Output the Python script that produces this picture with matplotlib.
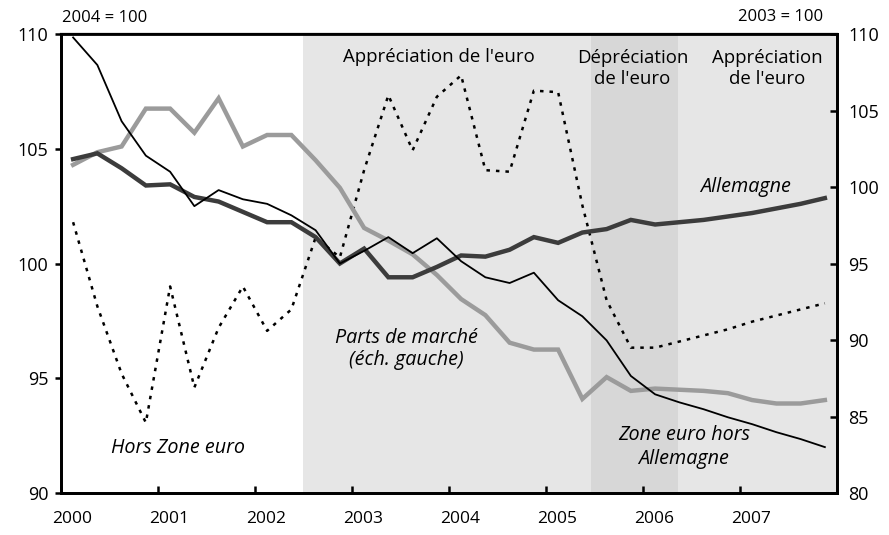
import numpy as np
import matplotlib
matplotlib.use('Agg')
import matplotlib.pyplot as plt

plt.rcParams['font.family'] = ['Open Sans', 'DejaVu Sans']

# quarterly points, 2000Q1 .. 2007Q4
quarters = 2000.125 + 0.25 * np.arange(32)

# Parts de marche (left scale, 2004 = 100)
allemagne = [104.55, 104.8, 104.15, 103.4, 103.45, 102.9, 102.7, 102.25,
             101.8, 101.8, 101.15, 100.0, 100.65, 99.4, 99.4, 99.85,
             100.35, 100.3, 100.6, 101.15, 100.9, 101.35, 101.5, 101.9,
             101.7, 101.8, 101.9, 102.05, 102.2, 102.4, 102.6, 102.85]
zone_euro = [109.85, 108.65, 106.2, 104.7, 104.0, 102.5, 103.2, 102.8,
             102.6, 102.1, 101.45, 100.0, 100.55, 101.15, 100.45, 101.1,
             100.1, 99.4, 99.15, 99.6, 98.4, 97.7, 96.65, 95.1,
             94.3, 93.95, 93.65, 93.3, 93.0, 92.65, 92.35, 92.0]
hors_zone = [104.3, 104.85, 105.1, 106.75, 106.75, 105.7, 107.2, 105.1,
             105.6, 105.6, 104.5, 103.3, 101.55, 101.0, 100.4, 99.5,
             98.45, 97.75, 96.55, 96.25, 96.25, 94.1, 95.05, 94.45,
             94.55, 94.5, 94.45, 94.35, 94.05, 93.9, 93.9, 94.05]

# taux de change effectif (right scale, 2003 = 100)
change = [97.7, 92.2, 87.8, 84.6, 93.5, 86.9, 90.8, 93.5,
          90.6, 92.0, 96.7, 95.4, 101.1, 106.0, 102.4, 105.9,
          107.3, 101.1, 101.0, 106.3, 106.2, 98.8, 92.6, 89.5,
          89.5, 89.9, 90.3, 90.7, 91.2, 91.6, 92.0, 92.4]

years = np.arange(2000, 2008)
year_labels = [str(y) for y in years]

# periodes
appre1 = (2002.49, 2005.46)
depre = (2005.46, 2006.36)
appre2 = (2006.36, 2008.0)

fig = plt.figure(figsize=(8.89, 5.35), dpi=100)
ax = fig.add_axes([0.0686, 0.0785, 0.8729, 0.8579])
ax2 = ax.twinx()

# shading on the lower (right-scale) axes so the dotted line stays visible
ax2.axvspan(*appre1, color='#e6e6e6', lw=0, zorder=0)
ax2.axvspan(*depre, color='#d7d7d7', lw=0, zorder=0)
ax2.axvspan(*appre2, color='#e6e6e6', lw=0, zorder=0)
ax2.plot(quarters, change, color='black', lw=1.8, linestyle=(0, (1.4, 2.4)), zorder=5)

ax.plot(quarters, hors_zone, color='#9b9b9b', lw=3.2, zorder=3, solid_joinstyle='miter')
ax.plot(quarters, allemagne, color='#3c3c3c', lw=3.2, zorder=4, solid_joinstyle='miter')
ax.plot(quarters, zone_euro, color='black', lw=1.3, zorder=5)

ax.set_xlim(2000, 2008)
ax.set_ylim(90, 110)
ax2.set_ylim(80, 110)
ax.set_yticks(np.arange(90, 111, 5))
ax2.set_yticks(np.arange(80, 111, 5))

ax.set_xticks(years)
ax.set_xticklabels([''] * len(years))
ax.set_xticks(years + 0.115, year_labels, minor=True)
ax.tick_params(axis='x', which='major', direction='in', length=5, width=1.8)
ax.tick_params(axis='x', which='minor', length=0, pad=13, labelsize=12.5)
ax.tick_params(axis='y', direction='out', length=4, width=1.8, pad=5, labelsize=13)
ax2.tick_params(axis='y', direction='in', length=5, width=1.8, pad=8, labelsize=13)

for s in ax.spines.values():
    s.set_linewidth(2)
for s in ax2.spines.values():
    s.set_linewidth(2)
ax.spines['top'].set_linewidth(1.6)

ax.set_zorder(ax2.get_zorder() + 1)
ax.patch.set_visible(False)

fs = 13.4   # upright annotations
fi = 14.2   # italic series labels
fig.text(62 / 889, 1 - 18 / 535, '2004 = 100', fontsize=12, ha='left', va='center')
fig.text(823 / 889, 1 - 17 / 535, '2003 = 100', fontsize=12, ha='right', va='center')

ax.text(2003.90, 109.0, "Appréciation de l'euro", fontsize=fs, ha='center', va='center')
ax.text(2005.89, 108.5, "Dépréciation\nde l'euro", fontsize=fs, ha='center', va='center',
        linespacing=1.25)
ax.text(2007.28, 108.5, "Appréciation\nde l'euro", fontsize=fs, ha='center', va='center',
        linespacing=1.25)
ax.text(2007.06, 103.33, 'Allemagne', fontsize=fi, style='italic', ha='center', va='center')
ax.text(2003.56, 96.27, 'Parts de marché\n(éch. gauche)', fontsize=fi, style='italic',
        ha='center', va='center', linespacing=1.1)
ax.text(2001.21, 91.96, 'Hors Zone euro', fontsize=fi, style='italic', ha='center', va='center')
ax.text(2006.42, 92.0, 'Zone euro hors\nAllemagne', fontsize=fi, style='italic',
        ha='center', va='center', linespacing=1.3)

fig.savefig('out.png', dpi=100)
